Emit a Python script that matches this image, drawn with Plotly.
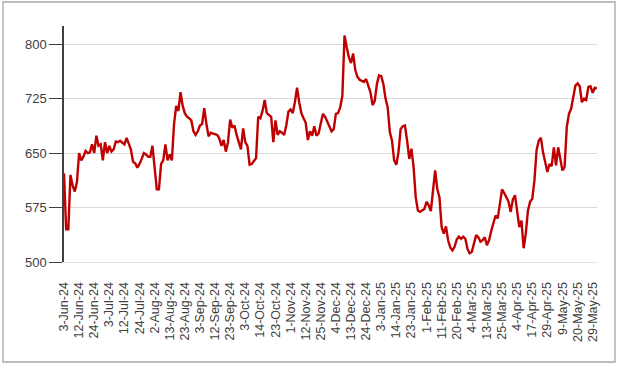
import plotly.graph_objects as go

tick_labels = ["3-Jun-24", "12-Jun-24", "24-Jun-24", "3-Jul-24", "12-Jul-24", "24-Jul-24",
               "2-Aug-24", "13-Aug-24", "23-Aug-24", "3-Sep-24", "12-Sep-24", "23-Sep-24",
               "3-Oct-24", "14-Oct-24", "23-Oct-24", "1-Nov-24", "12-Nov-24", "25-Nov-24",
               "4-Dec-24", "13-Dec-24", "24-Dec-24", "3-Jan-25", "14-Jan-25", "23-Jan-25",
               "1-Feb-25", "11-Feb-25", "20-Feb-25", "4-Mar-25", "13-Mar-25", "25-Mar-25",
               "4-Apr-25", "17-Apr-25", "29-Apr-25", "9-May-25", "20-May-25", "29-May-25"]
label_step = 7

values = [
    622, 545, 545, 620, 605, 597, 610, 650, 640, 645,
    653, 650, 651, 662, 650, 674, 660, 662, 640, 665,
    650, 660, 652, 655, 666, 665, 667, 664, 662, 671,
    662, 655, 638, 636, 630, 635, 642, 650, 648, 645,
    645, 660, 630, 600, 600, 635, 640, 662, 640, 648,
    640, 690, 715, 708, 734, 715, 705, 700, 698, 695,
    680, 675, 680, 688, 690, 712, 690, 673, 678, 677,
    675, 675, 670, 660, 668, 652, 665, 696, 685, 688,
    675, 665, 655, 684, 665, 660, 634, 635, 640, 643,
    700, 698, 708, 723, 705, 702, 700, 665, 695, 675,
    680, 678, 675, 688, 707, 710, 705, 720, 740, 720,
    705, 698, 692, 668, 680, 674, 687, 674, 677, 691,
    704, 700, 694, 687, 680, 683, 704, 705, 713, 729,
    812, 796, 782, 774, 787, 764, 755, 751, 749, 748,
    752, 742, 734, 716, 722, 745, 757, 756, 745, 725,
    713, 679, 667, 640, 634, 651, 683, 687, 688, 667,
    642, 656, 631, 589, 571, 569, 571, 573, 583, 578,
    570, 603, 626, 600, 589, 548, 539, 549, 530, 520,
    516, 521, 531, 535, 532, 535, 532, 518, 512, 514,
    525, 537, 534, 528, 530, 534, 523, 530, 543, 554,
    564, 560, 580, 600, 595, 589, 583, 569, 586, 592,
    573, 548, 557, 519, 539, 571, 583, 587, 612, 654,
    667, 671, 651, 635, 624, 635, 632, 658, 633, 658,
    640, 626, 631, 686, 704, 711, 727, 743, 746, 742,
    720, 725, 723, 741, 742, 733, 740, 739,
]

x_idx = list(range(len(values)))
tick_pos = [i * label_step for i in range(len(tick_labels))]

fig = go.Figure()
fig.add_trace(go.Scatter(
    x=x_idx, y=values, mode="lines",
    line=dict(color="#c00000", width=2.4),
    hoverinfo="skip",
))

fig.update_layout(
    width=619, height=365,
    margin=dict(l=64, r=22, t=26, b=103),
    paper_bgcolor="white", plot_bgcolor="white",
    showlegend=False,
    font=dict(family="Liberation Sans, Arial, sans-serif", color="#404040"),
    xaxis=dict(
        range=[0, len(values) - 1],
        tickmode="array", tickvals=tick_pos, ticktext=tick_labels,
        tickangle=-90, tickfont=dict(size=12.5, color="#404040"),
        showgrid=False, zeroline=False,
        showline=True, linecolor="#e3e3e3", linewidth=1.3,
        ticks="", ticklabelstandoff=14,
    ),
    yaxis=dict(
        range=[500, 825],
        tickmode="array", tickvals=[500, 575, 650, 725, 800],
        tickfont=dict(size=13, color="#404040"),
        showgrid=True, gridcolor="#d9d9d9", gridwidth=1.3,
        zeroline=False,
        showline=True, linecolor="#404040", linewidth=1.5,
        ticks="outside", ticklen=13, tickcolor="#404040", tickwidth=1.3,
    ),
    shapes=[dict(
        type="rect", xref="paper", yref="paper",
        x0=-0.1144, x1=1.0338, y0=-0.4237, y1=1.1017,
        line=dict(color="#a6a6a6", width=1.3), fillcolor="rgba(0,0,0,0)",
    )],
)

fig.write_html("out.html", config={"displayModeBar": False},
               post_script="document.body.style.margin='0';")
